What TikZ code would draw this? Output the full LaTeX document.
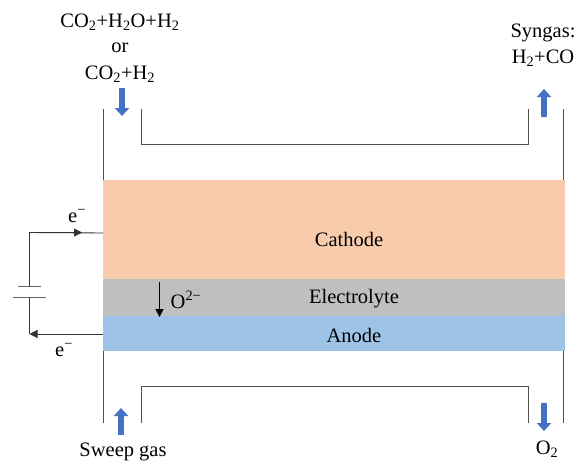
\documentclass[tikz,border=0pt]{standalone}
\usepackage{fontspec}
\setmainfont{Liberation Serif}
\usetikzlibrary{arrows.meta,calc}
\definecolor{cathodec}{RGB}{248,203,173}
\definecolor{electroc}{RGB}{191,191,191}
\definecolor{anodec}{RGB}{157,195,230}
\definecolor{flowc}{RGB}{68,114,196}
\definecolor{wallc}{RGB}{80,80,80}
\tikzset{
  x=1pt,y=-1pt,
  layer/.style={draw=none,inner sep=0,minimum width=462pt,anchor=north west},
  lbl/.style={inner sep=0,font=\fontsize{20.5}{24}\selectfont,align=center},
  wall/.style={draw=wallc,line width=0.9pt},
  wire/.style={draw=black!80,line width=0.9pt},
  wirearrow/.style={wire,-{Triangle[length=8pt,width=8pt]}},
  flow/.style={draw=flowc,line width=6.5pt,-{Triangle[length=8pt,width=14pt]}}
}
\newcommand{\sbs}[1]{\textsubscript{#1}}
\begin{document}
\begin{tikzpicture}
\useasboundingbox (0,0) rectangle (585,464);
\node[layer,fill=cathodec,minimum height=99pt] (cathode) at (103,180) {};
\node[layer,fill=electroc,minimum height=37pt] (electrolyte) at (103,279) {};
\node[layer,fill=anodec,minimum height=35pt] (anode) at (103,316) {};
% channel walls
\coordinate (tl) at (103.5,109); \coordinate (tr) at (563.5,109);
\coordinate (til) at (141,109); \coordinate (tir) at (528,109);
\coordinate (bl) at (103.5,423); \coordinate (br) at (563.5,423);
\coordinate (bil) at (141,423); \coordinate (bir) at (528,423);
\draw[wall] (tl) -- (tl |- cathode.north);
\draw[wall] (tr) -- (tr |- cathode.north);
\draw[wall] (til) -- (141,144) -- (528,144) -- (tir);
\draw[wall] (bl) -- (bl |- anode.south);
\draw[wall] (br) -- (br |- anode.south);
\draw[wall] (bil) -- (141,386) -- (528,386) -- (bir);
% flow arrows
\coordinate (f1a) at (122,88); \coordinate (f1b) at (122,116);
\coordinate (f2a) at (544,117); \coordinate (f2b) at (544,89);
\coordinate (f3a) at (121,435); \coordinate (f3b) at (121,408);
\coordinate (f4a) at (544,403); \coordinate (f4b) at (544,431);
\draw[flow] (f1a) -- (f1b);
\draw[flow] (f2a) -- (f2b);
\draw[flow] (f3a) -- (f3b);
\draw[flow] (f4a) -- (f4b);
% circuit
\coordinate (c1) at (29.5,232.5);
\coordinate (c2) at (29.5,334);
\coordinate (p1) at (29.5,286.7);
\coordinate (p2) at (29.5,297);
\coordinate (ca) at (103,233);
\coordinate (an) at (103,334);
\draw[wire] (p1) -- (c1) -- (ca);
\draw[wirearrow] (c1) -- (82,232.5);
\draw[wire] (p2) -- (c2);
\draw[wirearrow] (an) -- (c2);
\draw[draw=black!60,line width=0.9pt] (18,286.7) -- (41,286.7);
\draw[draw=black!60,line width=0.9pt] (13,297) -- (46,297);
\coordinate (o1) at (159.5,282); \coordinate (o2) at (159.5,317);
\draw[wirearrow,draw=black,line width=1.3pt] (o1) -- (o2);
% labels
\node[lbl] (lc) at (349,239.5) {Cathode};
\node[lbl] (le) at (354,298.5) {Electrolyte};
\node[lbl] (la) at (354,335) {Anode};
\node[lbl] (in1) at (120,22) {CO\sbs{2}+H\sbs{2}O+H\sbs{2}};
\node[lbl] (in2) at (120,47.5) {or};
\node[lbl] (in3) at (120,74) {CO\sbs{2}+H\sbs{2}};
\node[lbl] (out1) at (543,32.5) {Syngas:};
\node[lbl] (out2) at (543,58) {H\sbs{2}+CO};
\node[lbl] (sg) at (123,452) {Sweep gas};
\node[lbl] (ox) at (547,449) {O\sbs{2}};
\node[lbl] (e1) at (77,216) {e\textsuperscript{−}};
\node[lbl] (e2) at (64,350) {e\textsuperscript{−}};
\node[lbl] (oi) at (186,300) {O\textsuperscript{2−}};
\end{tikzpicture}
\end{document}
